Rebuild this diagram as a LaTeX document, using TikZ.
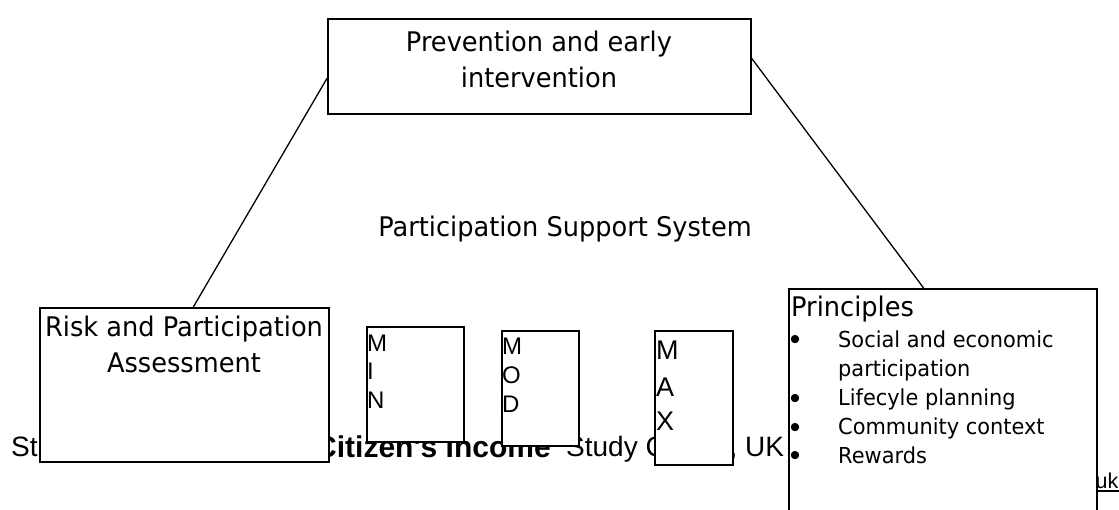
\documentclass[tikz,border=0pt]{standalone}
\usepackage{fontspec}
\newfontfamily\tah{DejaVu Sans}[FakeStretch=0.95]
\newfontfamily\arial{Liberation Sans}
\usetikzlibrary{calc}
\begin{document}
\begin{tikzpicture}[x=1pt,y=-1pt,
  box/.style={draw=black, line width=1.6pt, fill=white, inner sep=0pt, anchor=north west},
  link/.style={draw=black, line width=1.3pt},
  tahbig/.style={font=\tah\fontsize{27}{32}\selectfont, inner sep=0pt, anchor=base},
  tahsmall/.style={font=\tah\fontsize{22}{26}\selectfont, inner sep=0pt, anchor=base west},
  bul/.style={font=\arial\fontsize{30}{34}\selectfont, inner sep=0pt, anchor=base},
  letter/.style={font=\arial\fontsize{24}{28}\selectfont, inner sep=0pt, anchor=base west},
  bigletter/.style={font=\arial\fontsize{27}{32}\selectfont, inner sep=0pt, anchor=base west},
  bgtext/.style={font=\arial\fontsize{28}{33}\selectfont, inner sep=0pt, anchor=base west}]
\clip (0,0) rectangle (1119,510);
\fill[white] (0,0) rectangle (1119,510);
% background text line (partly hidden by the boxes)
\node[bgtext] (st) at (11,456) {St};
\node[bgtext, font=\arial\bfseries\fontsize{30}{34}\selectfont] (cis) at (315,457) {Citizen's Income};
\node[bgtext] (stc) at (566,456) {Study Centre, UK};
\node[font=\arial\fontsize{21.5}{26}\selectfont, inner sep=0pt, anchor=base west] (uk) at (1095.5,488) {uk};
\draw[line width=1.4pt] ($(uk.base west)+(0,3)$) -- ($(uk.base east)+(0,3)$);
% boxes
\node[box, minimum width=423pt, minimum height=95pt] (top) at (327,18) {};
\node[box, minimum width=289pt, minimum height=154pt] (risk) at (39,307) {};
\node[box, minimum width=97pt, minimum height=115pt] (min) at (366,326) {};
\node[box, minimum width=77pt, minimum height=115pt] (mod) at (501,330) {};
\node[box, minimum width=78pt, minimum height=134pt] (max) at (654,330) {};
\node[box, minimum width=308pt, minimum height=260pt] (princ) at (788,288) {};
% texts
\node[tahbig] (top1) at (539,52) {Prevention and early};
\node[tahbig] (top2) at (539,88) {intervention};
\node[tahbig] (risk1) at (184,337) {Risk and Participation};
\node[tahbig] (risk2) at (184,373) {Assessment};
\node[tahbig] (pss) at (565,237) {Participation Support System};
\node[letter] (min1) at (367,352) {M};
\node[letter] (min2) at (367,380) {I};
\node[letter] (min3) at (367,409) {N};
\node[letter] (mod1) at (502,355) {M};
\node[letter] (mod2) at (502,384) {O};
\node[letter] (mod3) at (502,412) {D};
\node[bigletter] (max1) at (656,360) {M};
\node[bigletter] (max2) at (656,396) {A};
\node[bigletter] (max3) at (656,430) {X};
\node[tahbig, anchor=base west] (ph) at (791,317) {Principles};
\node[bul] (b1) at (795,350) {•};
\node[tahsmall] (p1) at (838,348) {Social and economic};
\node[tahsmall] (p1b) at (838,377) {participation};
\node[bul] (b2) at (795,408) {•};
\node[tahsmall] (p2) at (838,406) {Lifecyle planning};
\node[bul] (b3) at (795,437) {•};
\node[tahsmall] (p3) at (838,435) {Community context};
\node[bul] (b4) at (795,465) {•};
\node[tahsmall] (p4) at (838,463) {Rewards};
% connectors
\coordinate (lA) at ($(risk.north west)!0.531!(risk.north east)$);
\coordinate (lB) at ($(top.north west)!0.625!(top.south west)$);
\coordinate (rA) at ($(top.north east)!0.417!(top.south east)$);
\coordinate (rB) at ($(princ.north west)!0.438!(princ.north east)$);
\draw[link] (lA) -- (lB);
\draw[link] (rA) -- (rB);
\end{tikzpicture}
\end{document}
